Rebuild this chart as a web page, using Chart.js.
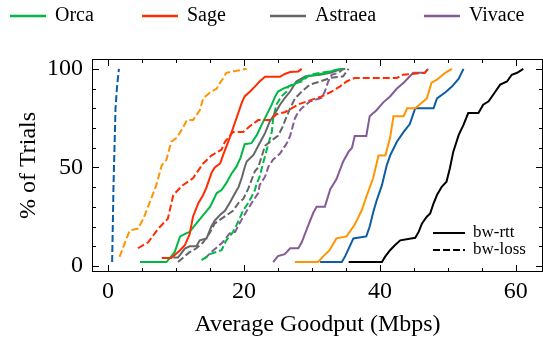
<!DOCTYPE html>
<html>
<head>
<meta charset="utf-8">
<script src="https://cdn.jsdelivr.net/npm/chart.js@4/dist/chart.umd.min.js"></script>
<style>
  body { margin: 0; background: #fff; }
  #wrap { width: 543px; height: 339px; }
</style>
</head>
<body>
<div id="wrap"><canvas id="cdf" width="543" height="339"></canvas></div>
<script>
// CDF of average goodput, [Mbps, % of trials]
// solid = bw-rtt traces, dashed = bw-loss traces
const orcaRtt = [[4.7,2],[8.6,2],[9.8,7],[10.6,15],[11.5,16.5],[12,17.3],[13,21.6],[14,25.8],[15,30],[16,37],[16.7,38.5],[17.4,42],[18.2,47],[18.9,50.4],[19.5,55],[20.1,61.8],[21.1,62.3],[21.9,66.5],[22.6,71.6],[24.1,82],[24.6,86],[25,88.5],[26,90.3],[26.5,91],[27.3,92],[28.2,93.6],[29.2,96.2],[30.7,97],[32.2,98],[33.6,99.6],[34.6,100]];
const orcaLoss = [[13.75,3],[14.5,4.6],[15,6],[16.7,8],[17.4,13],[18.4,17.3],[18.9,20.7],[19.9,28.3],[20.6,31.8],[21.1,35],[21.6,38.5],[21.9,42],[22.3,45.3],[22.8,52],[23.6,62],[24.1,68],[24.3,75],[24.8,82],[25.5,86],[26.3,88.5],[26.5,91],[27.5,92.8],[28.5,93.6],[29.7,97],[31.2,98],[32.7,98.7],[34.4,100]];
const sageRtt = [[7.9,4],[9.3,4],[10.6,8],[11.3,10.5],[12,16],[12.5,25],[13.3,32],[14,36],[14.5,40],[15.2,47],[15.7,50],[16.5,52],[16.9,56],[17.9,65],[19.2,78],[19.7,83],[20.1,86],[20.9,88.5],[21.6,91],[22.3,93.6],[23.1,96],[25.3,96],[26,97.4],[26.8,98.4],[28,98.7],[28.5,100]];
const sageLoss = [[4.4,9],[5.9,12],[7.4,19],[8.8,24],[9.6,36],[11,41],[12.5,44.5],[14,52],[15.2,56],[16.7,59],[17.2,63],[18.4,68],[19.9,68],[20.9,71],[22.1,74],[23.8,74],[24.8,77],[26,78],[27,80],[28,82],[29.7,84],[31.4,86],[32.9,88.5],[34.1,91],[35.1,93.6],[36.3,95.4],[42.5,95.4],[43.4,97],[46.6,98],[47.1,100]];
const astraeaRtt = [[9.6,4.3],[10.3,4.3],[11.3,8.8],[12,10],[13,10],[13.5,13],[14.5,14],[15.2,20],[15.7,23],[16.5,26],[17.2,28],[17.9,32],[18.7,37],[19.2,40],[19.7,45],[20.1,50],[20.4,53],[21.4,56.3],[22.3,62.3],[23.1,67.4],[23.8,73.3],[24.6,77.6],[25.3,81.8],[26,85.2],[26.8,88.5],[27.7,93.6],[29,96.2],[31.2,97],[32.7,98],[34.1,99.6],[34.9,100]];
const astraeaLoss = [[10.3,2],[11.3,5],[12,7],[13,9],[14,12],[15,17],[15.7,21.6],[16.7,24],[18.4,28],[19.2,32],[19.9,34],[20.6,39],[21.6,48],[22.1,50],[23.1,61],[24.2,64],[25,66],[25.6,70],[26.3,76],[26.8,80],[27.5,85],[28.5,88.5],[29.7,92],[31.2,93.6],[32.7,95.4],[34.6,96.2],[35.1,98.7],[35.4,100]];
const vivaceRtt = [[24.3,2],[25,5],[26,6],[26.8,9],[28,9],[28.5,12],[29.5,21],[30.2,27],[30.7,30],[31.9,30],[32.7,39],[33.6,44],[34.6,53],[35.4,58],[35.9,60],[36.3,66],[38,66],[38.5,76],[39.5,79],[40.5,83],[41.5,86],[42.5,90],[43.5,93],[44.9,98],[46.6,98],[47.1,100]];
const vivaceLoss = [[14.2,3.7],[15.5,8],[16,9.4],[16.9,12.2],[17.9,16.5],[18.7,17.3],[19.2,20.7],[19.9,25],[20.6,29],[21.4,33.4],[22.1,37],[22.3,41],[23.1,45.3],[23.6,50.4],[24.3,54],[25.3,57],[26.3,62.3],[26.8,66],[27.5,75],[28,78],[28.5,80],[29.7,83.5],[31.4,85.2],[31.9,88.5],[32.4,93.6],[32.9,97],[33.9,98],[34.6,100]];
// unlabelled traces (blue, orange, black)
const blueRtt = [[31.2,2],[34.4,2],[34.9,5],[36.1,14],[38,15],[38.5,20],[39,27],[39.5,33],[40.3,41],[41,51],[41.5,56],[42.5,63],[43.5,68],[44.4,72],[44.9,77],[45.2,80],[47.9,80],[48.4,85],[49.6,88],[50.6,91],[51.6,95],[52.3,100]];
const blueLoss = [[0.6,2],[0.7,20],[0.8,40],[0.95,60],[1.1,80],[1.3,90],[1.6,100]];
const orangeRtt = [[27.5,2],[30.9,2],[31.7,5],[32.6,8],[33.6,14],[35.1,15],[36.3,21],[37.3,28],[38.1,36],[39,44.5],[39.8,56],[40.8,56],[41.5,65],[42,76],[43.5,76],[44,80],[45.2,80],[46.9,85],[47.6,93],[48.4,94.5],[49.6,98],[50.6,100]];
const orangeLoss = [[1.7,4.6],[2.5,12],[3.2,18],[4.4,19],[5.2,24],[6.1,32],[7.1,41],[7.9,51],[8.6,54],[9.3,63],[10.1,65],[11,70],[11.6,74],[12.5,74],[13.5,79],[14,85],[15,88],[16,90],[16.5,93],[16.9,95],[17.4,98],[18.9,99],[20.4,100]];
const blackRtt = [[35.4,2],[40.3,2],[40.75,4.6],[41.5,8],[42.2,10.5],[43,13],[45.2,14.3],[45.7,17.3],[46.2,21.6],[46.9,25],[47.4,26.7],[47.9,31.8],[48.4,36],[49.1,40.2],[49.8,42.7],[50.3,49.6],[50.8,58],[51.6,66.5],[52.3,71.6],[53,77.6],[54.5,77.6],[55.2,81.8],[56,83.5],[57,88.5],[57.7,92],[58.7,93.6],[59.4,97],[60.2,98],[61.1,100]];

const legendNames = ['Orca', 'Sage', 'Astraea', 'Vivace'];
const legendColors = ['#00B945', '#FF2C00', '#666666', '#845B97'];
const styleNames = ['bw-rtt', 'bw-loss'];
const xTicks = [0, 20, 40, 60];
const yTicks = [0, 50, 100];

const FONT = "'Liberation Serif', 'Times New Roman', serif";
const DASH = [7, 3];

function toPts(arr) {
    return arr.map(p => ({x: p[0], y: p[1]}));
}

function line(label, arr, color, dashed) {
    return {
        label: label,
        data: toPts(arr),
        showLine: true,
        borderColor: color,
        backgroundColor: color,
        borderWidth: 2,
        borderDash: dashed ? DASH : [],
        pointRadius: 0,
        tension: 0,
        fill: false
    };
}

const datasets = [
    line('blue bw-loss', blueLoss, '#0C5DA5', true),
    line('orange bw-loss', orangeLoss, '#FF9500', true),
    line('Sage bw-loss', sageLoss, '#FF2C00', true),
    line('Sage', sageRtt, '#FF2C00', false),
    line('Orca', orcaRtt, '#00B945', false),
    line('Astraea', astraeaRtt, '#666666', false),
    line('Astraea bw-loss', astraeaLoss, '#666666', true),
    line('Orca bw-loss', orcaLoss, '#00B945', true),
    line('Vivace bw-loss', vivaceLoss, '#845B97', true),
    line('Vivace', vivaceRtt, '#845B97', false),
    line('orange bw-rtt', orangeRtt, '#FF9500', false),
    line('blue bw-rtt', blueRtt, '#0C5DA5', false),
    line('black bw-rtt', blackRtt, '#000000', false)
];

// frame, inward ticks on all four sides, and both legends
const decor = {
    id: 'decor',
    afterDraw(chart) {
        const ctx = chart.ctx;
        const a = chart.chartArea;
        const xs = chart.scales.x, ys = chart.scales.y;
        ctx.save();
        ctx.strokeStyle = '#000';
        ctx.lineWidth = 1;
        ctx.strokeRect(a.left + 0.5, a.top + 0.5, a.right - a.left - 1, a.bottom - a.top - 1);

        ctx.beginPath();
        for (let v = 0; v <= 60; v += 5) {
            const len = (v % 20 === 0) ? 7 : 4;
            const px = Math.round(xs.getPixelForValue(v)) + 0.5;
            ctx.moveTo(px, a.bottom); ctx.lineTo(px, a.bottom - len);
            ctx.moveTo(px, a.top); ctx.lineTo(px, a.top + len);
        }
        for (let v = 0; v <= 100; v += 10) {
            const len = (v % 50 === 0) ? 7 : 4;
            const py = Math.round(ys.getPixelForValue(v)) + 0.5;
            ctx.moveTo(a.left, py); ctx.lineTo(a.left + len, py);
            ctx.moveTo(a.right, py); ctx.lineTo(a.right - len, py);
        }
        ctx.stroke();

        // top legend
        ctx.font = '20px ' + FONT;
        ctx.textBaseline = 'middle';
        ctx.textAlign = 'left';
        const starts = [10, 142, 270, 424];
        legendNames.forEach((name, i) => {
            ctx.strokeStyle = legendColors[i];
            ctx.lineWidth = 2.5;
            ctx.beginPath();
            ctx.moveTo(starts[i], 16); ctx.lineTo(starts[i] + 36, 16);
            ctx.stroke();
            ctx.fillStyle = '#000';
            ctx.fillText(name, starts[i] + 45, 16);
        });

        // style legend, lower right inside the axes
        ctx.font = '17px ' + FONT;
        styleNames.forEach((name, i) => {
            const y = 233 + i * 17;
            ctx.strokeStyle = '#000';
            ctx.lineWidth = 2;
            ctx.setLineDash(i === 1 ? DASH : []);
            ctx.beginPath();
            ctx.moveTo(433, y); ctx.lineTo(465, y);
            ctx.stroke();
            ctx.setLineDash([]);
            ctx.fillText(name, 473, y);
        });
        ctx.restore();
    }
};

new Chart(document.getElementById('cdf'), {
    type: 'scatter',
    data: { datasets: datasets },
    options: {
        responsive: false,
        animation: false,
        devicePixelRatio: 1,
        layout: { padding: { top: 59, right: 0, left: 0, bottom: 0 } },
        plugins: { legend: { display: false }, tooltip: { enabled: false } },
        scales: {
            x: {
                type: 'linear',
                min: -2.36,
                max: 64,
                afterFit: s => { s.height = 67; },
                afterBuildTicks: s => { s.ticks = xTicks.map(v => ({value: v})); },
                grid: { display: false, drawTicks: false },
                border: { display: false },
                ticks: { color: '#000', padding: 5, font: { family: FONT, size: 24 } },
                title: { display: true, text: 'Average Goodput (Mbps)', color: '#000',
                         padding: 0, font: { family: FONT, size: 24 } }
            },
            y: {
                type: 'linear',
                min: -3.05,
                max: 105,
                afterFit: s => { s.width = 92; },
                afterBuildTicks: s => { s.ticks = yTicks.map(v => ({value: v})); },
                grid: { display: false, drawTicks: false },
                border: { display: false },
                ticks: { color: '#000', padding: 9, font: { family: FONT, size: 24 } },
                title: { display: true, text: '% of Trials', color: '#000',
                         padding: { top: 14, bottom: 0 }, font: { family: FONT, size: 24 } }
            }
        }
    },
    plugins: [decor]
});
</script>
</body>
</html>
